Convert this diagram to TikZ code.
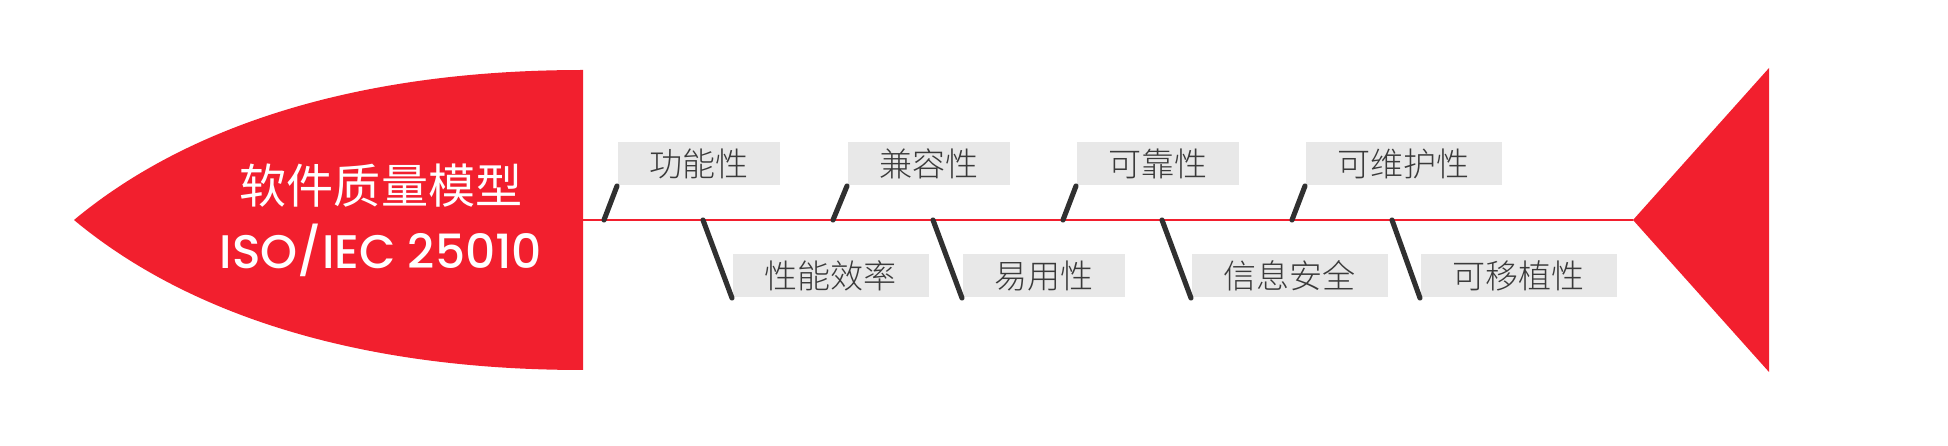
\documentclass[tikz,border=0pt]{standalone}
\usepackage{fontspec}
\setmainfont{Noto Sans CJK SC}
\newfontfamily\causefont{Noto Sans CJK SC}[UprightFont=* Light]
\newfontfamily\isofont{Poppins}[UprightFont=* Medium]
\usepackage{tikz}
\usetikzlibrary{positioning,calc}
\definecolor{fishred}{RGB}{242,31,46}
\definecolor{bonegray}{RGB}{48,48,48}
\definecolor{labelgray}{RGB}{232,232,232}
\definecolor{textgray}{RGB}{58,58,58}

\tikzset{
  cause/.style={fill=labelgray, text=textgray, minimum width=1.62cm, minimum height=0.43cm,
    inner sep=0pt, anchor=south west, font=\causefont\fontsize{9.4}{11}\selectfont},
  widecause/.style={cause, minimum width=1.96cm},
  bone/.style={draw=bonegray, line width=1.45pt, line cap=round}
}

\begin{document}
\begin{tikzpicture}[x=0.01cm, y=-0.01cm]
    \useasboundingbox (0,0) rectangle (1948,446);
    % head and tail
    \fill[fishred] (74,220) .. controls (170,140) and (330,70) .. (583,70)
        -- (583,370) .. controls (330,370) and (170,300) .. (74,220) -- cycle;
    \fill[fishred] (1633,220) -- (1769,68) -- (1769,372) -- cycle;
    \node[text=white, align=center, font=\fontsize{13.4}{18.5}\selectfont] (model) at (381,220)
        {软件质量模型\\{\isofont ISO/IEC 25010}};
    % spine
    \coordinate (spineL) at (583,220);
    \coordinate (spineR) at (1633,220);
    \draw[fishred, line width=0.45pt] (spineL) -- (spineR);
    % points on the spine
    \coordinate (s1) at (604,220);
    \coordinate (s2) at (703,220);
    \coordinate (s3) at (833,220);
    \coordinate (s4) at (933,220);
    \coordinate (s5) at (1063,220);
    \coordinate (s6) at (1162,220);
    \coordinate (s7) at (1292,220);
    \coordinate (s8) at (1392,220);
    % characteristics
    \node[cause] (func) at (617,186) {功能性};
    \node[widecause] (perf) at (732,298) {性能效率};
    \node[cause] (compat) at (847,186) {兼容性};
    \node[cause] (usab) at (962,298) {易用性};
    \node[cause] (relia) at (1076,186) {可靠性};
    \node[widecause] (secur) at (1191,298) {信息安全};
    \node[widecause] (maint) at (1305,186) {可维护性};
    \node[widecause] (port) at (1420,298) {可移植性};
    % bones
    \draw[bone] (s1) -- (func.south west);
    \draw[bone] (s2) -- (perf.south west);
    \draw[bone] (s3) -- (compat.south west);
    \draw[bone] (s4) -- (usab.south west);
    \draw[bone] (s5) -- (relia.south west);
    \draw[bone] (s6) -- (secur.south west);
    \draw[bone] (s7) -- (maint.south west);
    \draw[bone] (s8) -- (port.south west);
\end{tikzpicture}
\end{document}
